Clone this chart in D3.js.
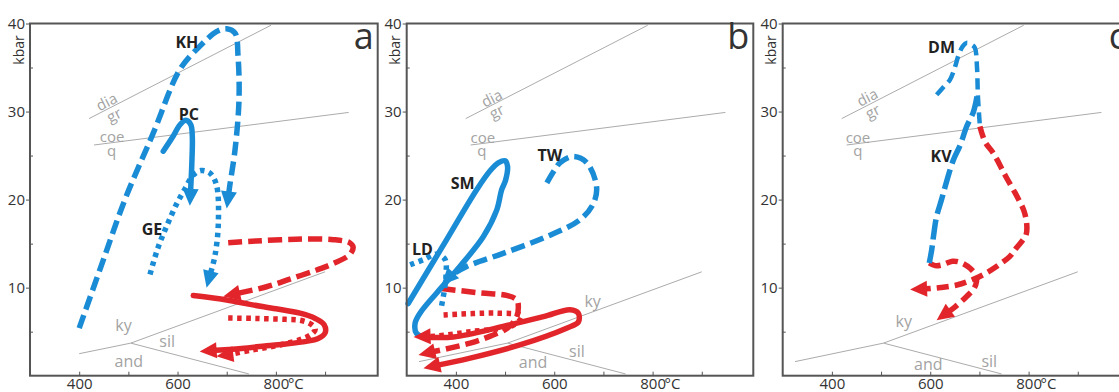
<!DOCTYPE html>
<html lang="en">
<head>
<meta charset="utf-8">
<script src="https://cdn.jsdelivr.net/npm/d3@7"></script>
<style>
body{margin:0;background:#fff;}
svg{display:block;font-family:"Open Sans",sans-serif;}
</style>
</head>
<body>
<div id="chart"></div>
<script>
const W=1119, H=392
const blue="#1a8cd6", red="#e2252b", grey="#ababab"

// axes
const pTicks=[10,20,30,40]
const pMinor=[5,15,25,35]
const tTicks=[400,500,600,700,800,900]
const tLabels={400:"400",600:"600",800:"800"}

// reaction lines, [T degC, P kbar]
const diaGr=[[420,29.2],[790,39.8]]
const coeQ=[[430,26.2],[948,29.9]]
const kySil=[[505,3.7],[900,11.8]]
const andSil=[[505,3.7],[745,0.2]]
const kyAndA=[[400,2.5],[505,3.7]]
const kyAndBC=[[325,1.6],[505,3.7]]

// panel a paths
const pathKH=[[400,5.4],[445,12.5],[493,20],[551,27.6],[605,34.8],[645,37.4],[680,39.1],[700,39.4],[717,38.9],[723,36.3],[725,31.4],[717,25.7],[706,21.5],[700,19.0]]
const pathPC=[[571,25.5],[590,27.1],[605,28.5],[617,29.0],[627,28.5],[630,27.2],[629,24],[627,21.5],[625,19.3]]
const pathGE=[[544,11.5],[560,14.5],[578,17],[598,19.5],[615,21.2],[632,22.8],[648,23.3],[666,23.0],[679,21.7],[683,17.4],[676,13.6],[659,10.0]]
const redA1=[[703,15.1],[760,15.3],[840,15.5],[917,15.45],[950,15.1],[957,14.6],[950,13.75],[915,12.7],[883,12.0],[830,11.0],[781,10.1],[693,9.0]]
const redA2=[[632,9.1],[700,8.6],[747,8.1],[800,7.6],[849,7.1],[880,6.5],[898,5.8],[900,4.85],[885,4.2],[862,3.9],[820,3.6],[781,3.4],[730,3.1],[645,2.76]]
const redA3=[[703,6.55],[760,6.5],[820,6.4],[849,6.3],[870,5.9],[880,5.3],[872,4.7],[849,4.1],[800,3.4],[754,2.95],[700,2.35],[679,2.2]]

// panel b paths
const pathSM=[[303,8.2],[372,14.6],[442,21.1],[470,23.3],[487,24.2],[500,24.4],[505,23.8],[501,22.2],[493,21.1],[483,18.8],[456,15.8],[408,12.4],[361,9.4],[327,7.1],[317,5.95],[320,4.8],[334,4.4]]
const pathTW=[[585,21.9],[600,23.3],[612,24.2],[639,24.9],[666,24.2],[686,21.5],[680,19.6],[652,17.7],[585,15.8],[496,13.9],[422,12.4],[388,11.3],[371,10.3]]
const pathLD=[[307,12.6],[335,13.2],[361,13.8],[378,13.2],[380,11.5],[376,9.5],[370,7.7]]
const redB1=[[334,4.4],[395,4.4],[496,5.6],[578,6.7],[632,7.5],[649,7.1],[649,6.1],[625,5.4],[530,3.5],[429,2.0],[334,0.85]]
const redB2=[[371,9.9],[449,9.4],[505,9.1],[524,8.6],[527,7.8],[523,6.6],[505,5.4],[470,4.5],[429,3.7],[324,2.35]]
const redB3=[[375,6.9],[483,7.1],[534,6.8],[517,5.75],[429,5.0],[361,4.5],[314,4.4]]

// panel c paths
const pathDM=[[613,31.9],[627,32.8],[640,33.6],[650,35],[657,36.3],[666,37.4],[674,37.8],[684,37.6],[691,37.2],[695,35.1],[697,31.7],[701,28.3]]
const pathKV=[[695,31.7],[688,30],[674,28.3],[661,26.2],[647,24.5],[633,22],[623,20],[613,18.1],[607,16],[603,14.3],[598,12.8]]
const redC1=[[701,28.3],[712,26.5],[728,25.3],[752,22.8],[776,20.4],[790,18.8],[796,17.35],[795,16],[789,15.45],[775,14.5],[762,13.55],[740,12.6],[715,11.7],[690,11.0],[654,10.3],[600,9.9],[559,9.8]]
const redC2=[[598,12.8],[610,12.5],[625,12.6],[645,13.0],[660,12.9],[681,12.2],[694,11.2],[690,10],[674,9.0],[650,7.8],[613,6.3]]

// labels [text, T, P]
const namesA=[["KH",619,37.2],["PC",623,29.0],["GE",548,16.0]]
const namesB=[["SM",414,21.2],["TW",591,24.4],["LD",332,13.7]]
const namesC=[["DM",623,36.6],["KV",622,24.3]]
const phaseA=[["ky",490,5.07],["sil",579,3.3],["and",501,1.02]]
const phaseB=[["ky",678,7.84],["sil",646,2.16],["and",557,0.84]]
const phaseC=[["ky",546,5.57],["sil",720,1.02],["and",596,0.62]]
const rxnA=[["dia",456,31.1,-27],["gr",471,29.6,-27],["coe",467,27.1,0],["q",466,25.6,0]]
const rxnB=[["dia",473,31.5,-27],["gr",483,30.0,-27],["coe",455,27.0,0],["q",453,25.6,0]]
const rxnC=[["dia",472,31.6,-27],["gr",483,30.0,-27],["coe",453,27.0,0],["q",453,25.6,0]]

const dash="14,6", dot="4.5,4.5"
const panels=[
 {letter:"a",left:30,right:377.7,kyAnd:kyAndA,names:namesA,phase:phaseA,rxn:rxnA,paths:[
  {d:pathKH,c:blue,dash:dash,arrow:true},
  {d:pathPC,c:blue,arrow:true},
  {d:pathGE,c:blue,dash:dot,arrow:true},
  {d:redA1,c:red,dash:dash,arrow:true},
  {d:redA2,c:red,arrow:true},
  {d:redA3,c:red,dash:dot,arrow:true}]},
 {letter:"b",left:406.7,right:753.3,kyAnd:kyAndBC,names:namesB,phase:phaseB,rxn:rxnB,paths:[
  {d:pathSM,c:blue},
  {d:pathTW,c:blue,dash:dash,arrow:true},
  {d:pathLD,c:blue,dash:dot},
  {d:redB1,c:red,arrow:true},
  {d:redB2,c:red,dash:dash,arrow:true},
  {d:redB3,c:red,dash:dot,arrow:true}]},
 {letter:"c",left:782.7,right:1130,kyAnd:kyAndBC,names:namesC,phase:phaseC,rxn:rxnC,paths:[
  {d:pathDM,c:blue,dash:"11,6",w:4.5},
  {d:pathKV,c:blue,dash:"20,6"},
  {d:redC1,c:red,dash:"12,6",arrow:true},
  {d:redC2,c:red,dash:"12,6",arrow:true}]}
]

const yTop=23.5, yBottom=375.7
const svg=d3.select("#chart").append("svg").attr("width",W).attr("height",H)
const line=d3.line().curve(d3.curveCatmullRom.alpha(0.5))

function drawPath(g,x,y,p){
  let px=p.d.map(d=>[x(d[0]),y(d[1])])
  if(p.arrow){
    const n=px.length, tip=px[n-1], prev=px[n-2]
    let dx=tip[0]-prev[0], dy=tip[1]-prev[1], len=Math.hypot(dx,dy); dx/=len; dy/=len
    px[n-1]=[tip[0]-dx*11,tip[1]-dy*11]
    const L=17, hw=8, bx=tip[0]-dx*L, by=tip[1]-dy*L
    g.append("path").attr("d",`M${tip[0]},${tip[1]}L${bx-dy*hw},${by+dx*hw}L${bx+dy*hw},${by-dx*hw}Z`).attr("fill",p.c)
  }
  g.insert("path",":first-child").attr("d",line(px)).attr("fill","none").attr("stroke",p.c)
   .attr("stroke-width",p.w||5.5).attr("stroke-dasharray",p.dash||null)
   .attr("stroke-linecap",p.dash?"butt":"round").attr("stroke-linejoin","round")
}

panels.forEach(pn=>{
  const x=d3.scaleLinear().domain([300,300+(pn.right-pn.left)/0.4918]).range([pn.left,pn.right])
  const y=d3.scaleLinear().domain([0,40]).range([yBottom,yTop])
  const g=svg.append("g")
  const gl=d3.line().x(d=>x(d[0])).y(d=>y(d[1]))
  ;[diaGr,coeQ,kySil,andSil,pn.kyAnd].forEach(l=>{
    g.append("path").attr("d",gl(l)).attr("fill","none").attr("stroke",grey).attr("stroke-width",1)
  })
  pn.rxn.forEach(r=>{
    g.append("text").attr("transform",`translate(${x(r[1])},${y(r[2])}) rotate(${r[3]})`)
     .attr("dy","0.35em").attr("text-anchor","middle").attr("font-size",15).attr("fill","#a3a3a3").text(r[0])
  })
  pn.phase.forEach(r=>{
    g.append("text").attr("x",x(r[1])).attr("y",y(r[2])).attr("text-anchor","middle")
     .attr("font-size",16).attr("fill","#a3a3a3").text(r[0])
  })
  const gp=g.append("g")
  pn.paths.forEach(p=>drawPath(gp,x,y,p))
  pn.names.forEach(r=>{
    g.append("text").attr("x",x(r[1])).attr("y",y(r[2])).attr("text-anchor","middle")
     .attr("font-size",16).attr("font-weight","bold").attr("fill","#222").text(r[0])
  })
  // frame
  g.append("rect").attr("x",pn.left).attr("y",yTop).attr("width",pn.right-pn.left).attr("height",yBottom-yTop)
   .attr("fill","none").attr("stroke","#555").attr("stroke-width",2)
  // axes
  const ay=g.append("g").attr("transform",`translate(${pn.left},0)`)
   .call(d3.axisLeft(y).tickValues(pTicks).tickSize(4).tickPadding(1))
  const am=g.append("g").attr("transform",`translate(${pn.left},0)`)
   .call(d3.axisLeft(y).tickValues(pMinor).tickSize(-3).tickFormat(""))
  const ax=g.append("g").attr("transform",`translate(0,${yBottom})`)
   .call(d3.axisBottom(x).tickValues(tTicks).tickSize(-4).tickPadding(3).tickFormat(d=>tLabels[d]||""))
  ;[ay,am,ax].forEach(a=>{
    a.select(".domain").remove()
    a.selectAll("line").attr("stroke","#555")
    a.selectAll("text").attr("font-size",15).attr("fill","#333").attr("font-family","Open Sans")
  })
  ax.append("text").attr("x",x(800)+12).attr("y",3).attr("dy","0.71em").attr("text-anchor","start")
   .attr("font-size",15).attr("fill","#333").attr("font-family","Open Sans").text("°C")
  g.append("text").attr("transform",`translate(${pn.left-6.5},50) rotate(-90)`).attr("text-anchor","middle")
   .attr("font-size",14).attr("fill","#333").text("kbar")
  g.append("text").attr("x",pn.right-4).attr("y",48.5).attr("text-anchor","end")
   .attr("font-size",36).attr("fill","#333").text(pn.letter)
})
</script>
</body>
</html>
